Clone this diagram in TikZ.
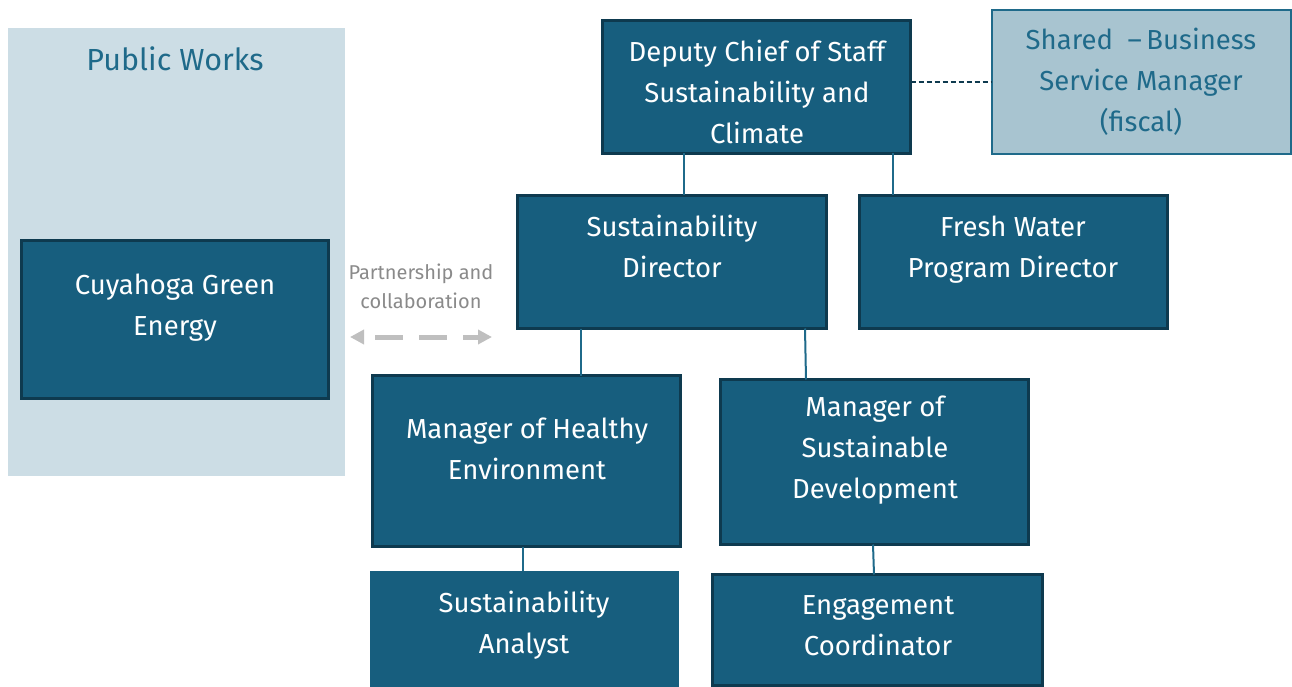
\documentclass[tikz,border=0pt]{standalone}
\usepackage{fontspec}
\setmainfont{Fira Sans}
\usetikzlibrary{arrows.meta}
\definecolor{boxfill}{HTML}{175E7E}
\definecolor{boxline}{HTML}{0E3A4F}
\definecolor{pwbg}{HTML}{CCDDE5}
\definecolor{pwtext}{HTML}{1F6A8A}
\definecolor{sharedfill}{HTML}{A8C4D0}
\definecolor{conn}{HTML}{1F6A8A}
\definecolor{partgray}{HTML}{BFBFBF}
\definecolor{parttext}{HTML}{8A8A8A}
\begin{document}
\begin{tikzpicture}[x=1pt,y=-1pt,
  box/.style={draw=boxline, line width=2.5pt, fill=boxfill, rectangle, anchor=north west, inner sep=0pt, outer sep=0pt},
  plainbox/.style={fill=boxfill, rectangle, anchor=north west, inner sep=0pt, outer sep=0pt},
  btext/.style={text=white, align=center, font=\fontsize{27.5}{41}\selectfont},
  link/.style={draw=conn, line width=2pt},
]
\useasboundingbox (0,0) rectangle (1292,687);
% Public Works
\node (pw) [rectangle, fill=pwbg, anchor=north west, inner sep=0pt, minimum width=337, minimum height=448] at (8,28) {};
\node (pwt) [text=pwtext, font=\fontsize{30.5}{32}\selectfont] at (175,59) {Public Works};
% boxes
\node (cge) [box, minimum width=307, minimum height=158] at (21.5,240.5) {};
\node (dcs) [box, minimum width=308, minimum height=133] at (602.5,20.5) {};
\node (sbm) [rectangle, draw=pwtext, line width=2pt, fill=sharedfill, anchor=north west, inner sep=0pt, outer sep=0pt, minimum width=299, minimum height=144] at (991.5,10.5) {};
\node (sd) [box, minimum width=309, minimum height=133] at (517.5,195.5) {};
\node (fw) [box, minimum width=308, minimum height=133] at (859.5,195.5) {};
\node (mhe) [box, minimum width=308, minimum height=171] at (372.5,375.5) {};
\node (msd) [box, minimum width=308, minimum height=165] at (720.5,379.5) {};
\node (sa) [plainbox, minimum width=309, minimum height=118] at (370,571) {};
\node (ec) [box, minimum width=330, minimum height=111] at (712.5,574.5) {};
% texts
\node (cget) [btext] at (175,307.5) {Cuyahoga Green\\Energy};
\node (dcst) [btext] at (757,91.5) {Deputy Chief of Staff\\Sustainability and\\Climate};
\node (sbmt) [btext, text=pwtext] at (1141,82) {Shared\ \ --\,Business\\Service Manager\\(fiscal)};
\node (sdt) [btext] at (672,246) {Sustainability\\Director};
\node (fwt) [btext] at (1013,249.5) {Fresh Water\\Program Director};
\node (mhet) [btext] at (527,448.5) {Manager of Healthy\\Environment};
\node (msdt) [btext] at (875,450.5) {Manager of\\Sustainable\\Development};
\node (sat) [btext] at (524,625) {Sustainability\\Analyst};
\node (ect) [btext] at (878,625.5) {Engagement\\Coordinator};
% connectors
\draw[link] (dcs.south -| 684,0) -- (sd.north -| 684,0);
\draw[link] (dcs.south -| 893,0) -- (fw.north -| 893,0);
\draw[link] (sd.south -| 581,0) -- (mhe.north -| 581,0);
\draw[link] (sd.south -| 805,0) -- (msd.north -| 806,0);
\draw[link] (mhe.south -| 523,0) -- (sa.north -| 523,0);
\draw[link] (msd.south -| 873,0) -- (ec.north -| 874,0);
\draw[draw=boxline, line width=2pt, dash pattern=on 5pt off 3pt] (dcs.east |- 0,82) -- (sbm.west |- 0,82);
% partnership
\coordinate (pa) at (350,337);
\coordinate (pb) at (492,337);
\draw[draw=partgray, line width=5pt, dash pattern=on 28pt off 16pt, dash phase=-12pt,
  {Triangle[length=14pt,width=14pt]}-{Triangle[length=14pt,width=14pt]}] (pa) -- (pb);
\node (pt) [text=parttext, align=center, font=\fontsize{20}{29}\selectfont] at (421,286) {Partnership and\\collaboration};
\end{tikzpicture}
\end{document}
